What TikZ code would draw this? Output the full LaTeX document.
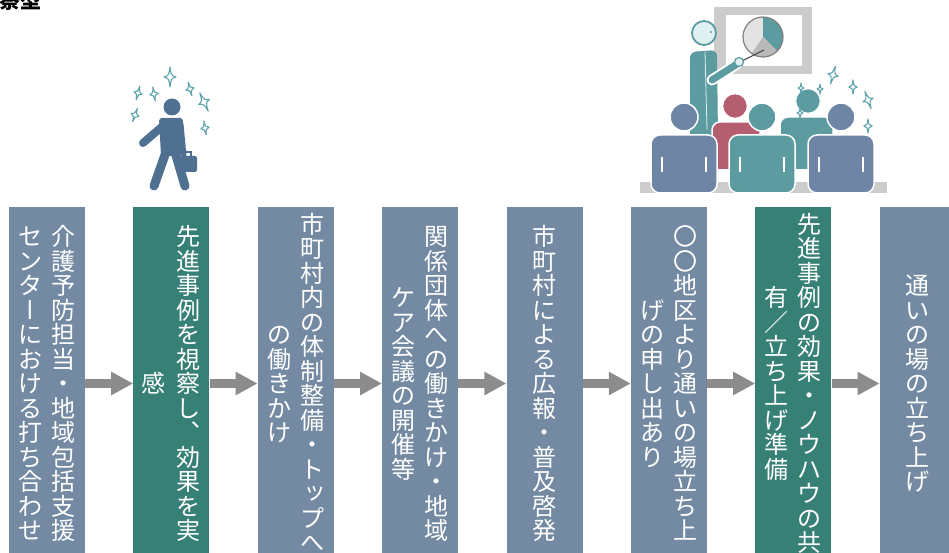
\documentclass[tikz,border=0pt]{standalone}
\usepackage{fontspec}
\setmainfont{Noto Sans CJK JP}
\newfontfamily\vertfont{Noto Sans CJK JP}[RawFeature=+vert]
\usetikzlibrary{arrows.meta}
\definecolor{myboxblue}{rgb}{0.45,0.54,0.635}
\definecolor{myboxteal}{rgb}{0.21,0.50,0.46}
\definecolor{myarrowgray}{rgb}{0.55,0.55,0.55}
\definecolor{mywalker}{rgb}{0.31,0.44,0.57}
\definecolor{mysparkle}{rgb}{0.37,0.64,0.68}
\definecolor{myteal}{rgb}{0.36,0.61,0.63}
\definecolor{myslate}{rgb}{0.43,0.52,0.65}
\definecolor{myrose}{rgb}{0.71,0.37,0.44}
\definecolor{myscreen}{rgb}{0.80,0.80,0.80}
\definecolor{myface}{rgb}{0.87,0.94,0.95}

% vertical writing: one character per cell, stacked top to bottom
\newcommand\tatesize{\fontsize{24pt}{25pt}\selectfont}
\newcommand\tatechar[1]{\hbox to 1em{\hss\vrule height .89em depth .13em width 0pt\relax#1\hss}}
\def\tatestop{\relax}
\def\tateloop#1{\def\tatetmp{#1}\ifx\tatetmp\tatestop\else\tatechar{#1}\expandafter\tateloop\fi}
\newcommand\tatecol[1]{$\vcenter{\offinterlineskip\tateloop#1\relax}$}

\begin{document}
\begin{tikzpicture}[x=1pt,y=-1pt,
  flowbox/.style={fill=myboxblue,text=white,font=\tatesize,inner sep=0pt,
    minimum width=76pt,minimum height=353pt},
  keybox/.style={flowbox,fill=myboxteal},
  flowarrow/.style={draw=myarrowgray,line width=9pt,-{Triangle[length=22pt,width=22pt]}},
  sparkle/.pic={\draw[mysparkle,line width=1.1pt,line join=round]
    (0,-1) .. controls (0.12,-0.15) .. (0.6,0) .. controls (0.12,0.15) .. (0,1)
    .. controls (-0.12,0.15) .. (-0.6,0) .. controls (-0.12,-0.15) .. (0,-1) -- cycle;},
  person/.style={draw=white,line width=1.5pt}]
  \useasboundingbox (0,0) rectangle (949,553);
  \clip (0,0) rectangle (949,553);
  \node[anchor=base west,inner sep=0pt,font=\fontsize{21pt}{21pt}\selectfont\bfseries] (title) at (-1,8.5) {察型};

  % walking man
  \fill[mywalker] (172,107) circle (8.5);
  \fill[mywalker,rounded corners=3pt] (159,118) -- (183,118) -- (182,156) -- (161,156) -- cycle;
  \draw[mywalker,line width=8pt,line cap=round] (164,125) -- (143,143);
  \draw[mywalker,line width=5pt,line cap=round] (181,124) -- (184,156);
  \draw[mywalker,line width=9pt,line cap=round] (166,152) -- (154,186);
  \draw[mywalker,line width=9pt,line cap=round] (175,152) -- (185,186);
  \draw[white,line width=1pt] (183,153) -- (183,158);
  \fill[mywalker,rounded corners=2pt] (178,156) rectangle (197,172);
  \draw[mywalker,line width=1.6pt] (184,156) -- (184,152) -- (191,152) -- (191,156);
  \pic[scale=10] at (170,77) {sparkle};
  \pic[scale=7,rotate=10] at (154,94) {sparkle};
  \pic[scale=7,rotate=-15] at (138,93) {sparkle};
  \pic[scale=7,rotate=-20] at (135,115) {sparkle};
  \pic[scale=7,rotate=15] at (190,89) {sparkle};
  \pic[scale=10,rotate=25] at (204,102) {sparkle};
  \pic[scale=7,rotate=10] at (205,128) {sparkle};

  % presentation scene
  \fill[myscreen] (714,7) rectangle (812,74);
  \fill[white] (726,15) rectangle (802,66);
  \fill[myscreen!55] (763,37) circle (20);
  \fill[myteal] (763,37) -- ++(-90:20) arc[start angle=-90,end angle=45,radius=20] -- cycle;
  \fill[gray!55] (763,37) -- ++(45:20) arc[start angle=45,end angle=125,radius=20] -- cycle;
  \draw[gray,line width=1.2pt] (763,37) circle (20);
  \draw[darkgray,line width=1pt] (740,62) -- (764,50);
  \fill[myteal,rounded corners=6pt] (690,140) -- (690,52) -- (717,50) -- (718,140) -- cycle;
  \draw[myface,line width=0.8pt] (705,52) -- (707,130);
  \draw[white,line width=11pt,line cap=round] (712,80) -- (737,64);
  \draw[myteal,line width=7pt,line cap=round] (712,80) -- (737,64);
  \filldraw[fill=myface,draw=myteal,line width=1.2pt] (739,62) circle (4.5);
  \filldraw[fill=myface,draw=myteal,line width=1.8pt] (704,33) circle (12);
  \fill[myteal] (711,32) circle (1.2);
  \filldraw[person,fill=myrose,rounded corners=8pt] (712,170) -- (712,122) -- (760,122) -- (760,170) -- cycle;
  \filldraw[person,fill=myrose] (735,106) circle (12.5);
  \filldraw[person,fill=myteal,rounded corners=8pt] (780,170) -- (780,117) -- (833,117) -- (833,170) -- cycle;
  \filldraw[person,fill=myteal] (808,101) circle (12.5);
  \pic[scale=5] at (801,88) {sparkle};
  \pic[scale=5] at (820,89) {sparkle};
  \pic[scale=5] at (800,113) {sparkle};
  \pic[scale=9,rotate=-15] at (833,75) {sparkle};
  \pic[scale=7] at (853,87) {sparkle};
  \pic[scale=9,rotate=20] at (868,100) {sparkle};
  \pic[scale=7] at (868,126) {sparkle};
  \fill[myscreen] (640,182) rectangle (887,193);
  \foreach \lx/\lc in {684/myslate,762/myteal,841/myslate}{
    \filldraw[person,fill=\lc,rounded corners=9pt] (\lx-33,193) -- (\lx-33,135) -- (\lx+33,135) -- (\lx+33,193) -- cycle;
    \filldraw[person,fill=\lc] (\lx,117) circle (14);
    \draw[white,line width=1.5pt] (\lx-22,157) -- (\lx-22,172) (\lx+22,157) -- (\lx+22,172);
  }

  % flow
  \node[flowbox] (b1) at (47,383.5) {\tatecol{センタ{\vertfont ー}における打ち合わせ}\hspace{9pt}\tatecol{介護予防担当・地域包括支援}};
  \node[keybox] (b2) at (171.4,383.5) {\tatecol{感}\hspace{11pt}\tatecol{先進事例を視察し{\vertfont 、}効果を実}};
  \node[flowbox] (b3) at (295.8,383.5) {\tatecol{の働きかけ}\hspace{9pt}\tatecol{市町村内の体制整備・ト{\vertfont ッ}プへ}};
  \node[flowbox] (b4) at (420.2,383.5) {\tatecol{ケア会議の開催等}\hspace{9pt}\tatecol{関係団体への働きかけ・地域}};
  \node[flowbox] (b5) at (544.6,383.5) {\tatecol{市町村による広報・普及啓発}};
  \node[flowbox] (b6) at (669,383.5) {\tatecol{げの申し出あり}\hspace{9pt}\tatecol{〇〇地区より通いの場立ち上}};
  \node[keybox] (b7) at (793.4,383.5) {\tatecol{有／立ち上げ準備}\hspace{9pt}\tatecol{先進事例の効果・ノウハウの共}};
  \node[flowbox] (b8) at (917.8,383.5) {\tatecol{通いの場の立ち上げ}};
  \draw[flowarrow] (b1) -- (b2);
  \draw[flowarrow] (b2) -- (b3);
  \draw[flowarrow] (b3) -- (b4);
  \draw[flowarrow] (b4) -- (b5);
  \draw[flowarrow] (b5) -- (b6);
  \draw[flowarrow] (b6) -- (b7);
  \draw[flowarrow] (b7) -- (b8);
\end{tikzpicture}
\end{document}
